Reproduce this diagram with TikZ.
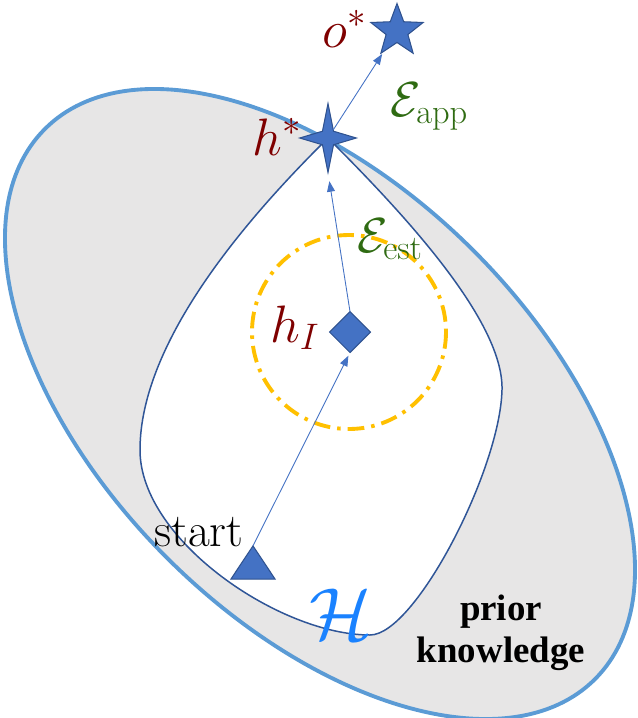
\RequirePackage{fix-cm}
\documentclass[tikz,border=0pt]{standalone}
\usepackage{amsmath}
\usepackage{fontspec}
\newfontfamily\priorfont{Liberation Serif}
\usetikzlibrary{arrows.meta,shapes.geometric,positioning}

\definecolor{setblue}{HTML}{5B9BD5}
\definecolor{setgray}{HTML}{E7E6E6}
\definecolor{hblue}{HTML}{2F5597}
\definecolor{ballyellow}{HTML}{FFC000}
\definecolor{arrowblue}{HTML}{4472C4}
\definecolor{markerblue}{HTML}{4472C4}
\definecolor{markerborder}{HTML}{2F528F}
\definecolor{labelred}{HTML}{7F0000}
\definecolor{labelgreen}{HTML}{2F6B12}
\definecolor{Hblue}{HTML}{1A82FF}

\begin{document}
\begin{tikzpicture}[
        x=0.02cm, y=-0.02cm,
        prior set/.style={draw=setblue, line width=2.2pt, fill=setgray},
        hypo set/.style={draw=hblue, line width=0.85pt, fill=white},
        est ball/.style={draw=ballyellow, line width=2.2pt, dash pattern=on 9.5pt off 4pt on 2pt off 4pt},
        pile/.style={draw=arrowblue, line width=0.5pt, -{Triangle[length=6pt,width=4.5pt]}, shorten >=2pt},
        marker/.style={draw=markerborder, fill=markerblue, line width=0.6pt, inner sep=0pt, outer sep=0pt},
        red label/.style={text=labelred, font=\fontsize{30}{36}\selectfont, inner sep=0pt},
        green label/.style={text=labelgreen, font=\fontsize{28}{34}\selectfont, inner sep=0pt}
    ]
    \useasboundingbox (0,0) rectangle (637,718);
    % prior knowledge
    \draw[prior set, rotate around={-45:(320,404)}] (320,404) ellipse [x radius=389, y radius=217];
    % hypothesis space
    \draw[hypo set] (328,138) .. controls (250,215) and (140,340) .. (140,450)
        .. controls (140,540) and (280,635) .. (370,635)
        .. controls (415,635) and (500,470) .. (502,390)
        .. controls (504,320) and (400,210) .. (328,138) -- cycle;
    \draw[est ball] (349,332) circle [radius=97];
    % markers
    \node[marker, star, star points=5, star point ratio=2.4, minimum size=1.1cm] (ostar) at (397,31) {};
    \node[marker, star, star points=4, star point ratio=3.6, minimum size=1.38cm, xscale=0.82] (hstar) at (328,138) {};
    \node[marker, diamond, minimum size=0.82cm] (hI) at (350,332) {};
    \node[marker, regular polygon, regular polygon sides=3, minimum size=1.02cm, yscale=0.87] (start) at (253,568) {};
    % arrows
    \draw[pile] (start.corner 1) -- (hI.south);
    \draw[pile, shorten >=5pt] (hI.north) -- (hstar.outer point 3);
    \draw[pile] (hstar) -- (ostar);
    % labels
    \node[red label, anchor=base] (olabel) at (345,47) {$o^*$};
    \node[red label, anchor=base] (hlabel) at (277,155) {$h^*$};
    \node[red label, anchor=base] (hIlabel) at (295,342) {$h_I$};
    \node[green label, anchor=base west] (app) at (390,116) {$\mathcal{E}_{\mathrm{app}}$};
    \node[green label, anchor=base west] (est) at (357,252) {$\mathcal{E}_{\mathrm{est}}$};
    \node[font=\fontsize{27}{32}\selectfont, anchor=base west, inner sep=0pt] (startlabel) at (154,546) {start};
    \node[text=Hblue, font=\fontsize{42}{50}\selectfont] (Hlabel) at (341,614) {$\mathcal{H}$};
    \node[font=\priorfont\bfseries\fontsize{21}{24}\selectfont, align=center] (prior) at (501,633) {prior\\knowledge};
\end{tikzpicture}
\end{document}
